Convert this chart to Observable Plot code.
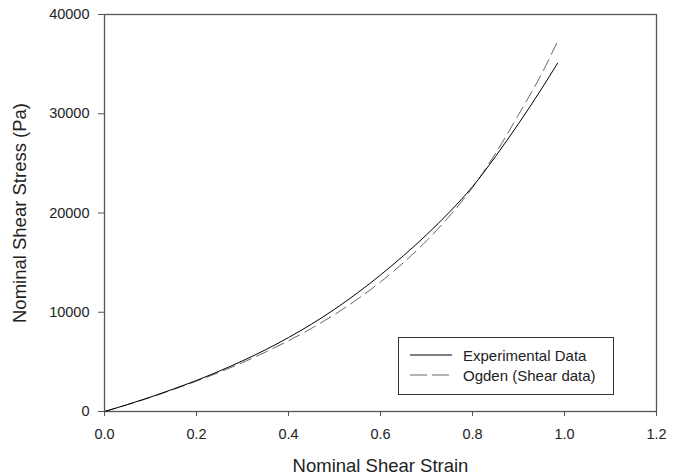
<!DOCTYPE html>
<html>
<head>
<meta charset="utf-8">
<script src="https://cdn.jsdelivr.net/npm/d3@7"></script>
<script src="https://cdn.jsdelivr.net/npm/@observablehq/plot@0.6"></script>
<style>
  html, body { margin: 0; padding: 0; background: #fff; }
  #wrap { position: relative; width: 689px; height: 476px; font-family: "Liberation Sans", Arial, sans-serif; }
  #legend { position: absolute; left: 398px; top: 337px; width: 216px; height: 58px; border: 1px solid #333; background: #fff; box-sizing: border-box; font-size: 15px; color: #222; }
  #legend .row { position: absolute; left: 11px; height: 18px; display: flex; align-items: center; white-space: nowrap; }
  #legend svg { margin-right: 11px; }
</style>
</head>
<body>
<div id="wrap"></div>
<script>
const seriesNames = ["Experimental Data", "Ogden (Shear data)"];
const expStrain = [0, 0.05, 0.1, 0.15, 0.2, 0.25, 0.3, 0.35, 0.4, 0.45, 0.5, 0.55, 0.6, 0.65, 0.7, 0.75, 0.8, 0.85, 0.9, 0.95, 0.985];
const expStress = [0, 700, 1450, 2270, 3130, 4080, 5100, 6220, 7450, 8800, 10300, 11950, 13750, 15700, 17800, 20100, 22650, 25700, 29000, 32500, 35100];
const ogdStrain = [0, 0.05, 0.1, 0.15, 0.2, 0.25, 0.3, 0.35, 0.4, 0.45, 0.5, 0.55, 0.6, 0.65, 0.7, 0.75, 0.8, 0.85, 0.9, 0.95, 0.983];
const ogdStress = [0, 690, 1420, 2220, 3060, 3960, 4930, 5990, 7130, 8380, 9770, 11320, 13050, 15000, 17200, 19700, 22550, 26000, 29900, 34000, 37100];
const xTicks = [0, 0.2, 0.4, 0.6, 0.8, 1.0, 1.2];
const yTicks = [0, 10000, 20000, 30000, 40000];

const exp = expStrain.map((x, i) => ({x, y: expStress[i]}));
const ogd = ogdStrain.map((x, i) => ({x, y: ogdStress[i]}));

const plot = Plot.plot({
  width: 689,
  height: 476,
  marginLeft: 104,
  marginRight: 33,
  marginTop: 14,
  marginBottom: 65,
  style: {fontFamily: '"Liberation Sans", Arial, sans-serif', fontSize: "14.5px", color: "#222", background: "#fff"},
  x: {domain: [0, 1.2]},
  y: {domain: [0, 40000]},
  marks: [
    Plot.frame({stroke: "#555", strokeWidth: 1.3}),
    Plot.line(ogd, {x: "x", y: "y", stroke: "#666", strokeWidth: 1, strokeDasharray: "12,6", curve: "monotone-x"}),
    Plot.line(exp, {x: "x", y: "y", stroke: "#000", strokeWidth: 1, curve: "monotone-x"}),
    Plot.axisX({ticks: xTicks, tickFormat: d3.format(".1f"), tickSize: 5, tickPadding: 12, stroke: "#555", fontSize: 14.5,
      label: "Nominal Shear Strain", labelAnchor: "center", labelOffset: 60, labelArrow: "none"}),
    Plot.axisY({ticks: yTicks, tickFormat: d => String(d), tickSize: 6, tickPadding: 9, stroke: "#555", fontSize: 14.5,
      label: "Nominal Shear Stress (Pa)", labelAnchor: "center", labelOffset: 92, labelArrow: "none"})
  ]
});
plot.querySelectorAll("[aria-label='x-axis label'] text, [aria-label='y-axis label'] text").forEach(t => t.setAttribute("font-size", "18.5"));
document.getElementById("wrap").appendChild(plot);

const legend = document.createElement("div");
legend.id = "legend";
const styles = [{stroke: "#000", dash: ""}, {stroke: "#666", dash: "17,5"}];
seriesNames.forEach((name, i) => {
  const row = document.createElement("div");
  row.className = "row";
  row.style.top = (8 + i * 20) + "px";
  row.innerHTML = `<svg width="42" height="4"><line x1="0" y1="2" x2="42" y2="2" stroke="${styles[i].stroke}" stroke-width="1" stroke-dasharray="${styles[i].dash}"/></svg><span>${name}</span>`;
  legend.appendChild(row);
});
document.getElementById("wrap").appendChild(legend);
</script>
</body>
</html>
